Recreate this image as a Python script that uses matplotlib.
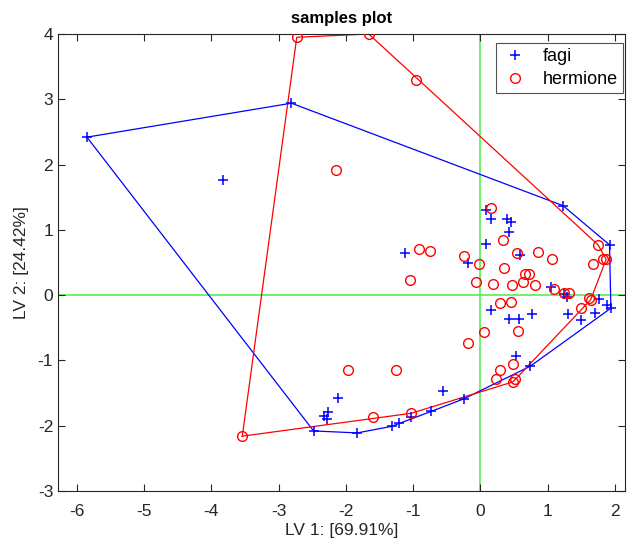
import matplotlib
matplotlib.use('Agg')
import matplotlib.pyplot as plt
import numpy as np

plt.rcParams['font.family'] = ['Liberation Sans', 'DejaVu Sans']
plt.rcParams['axes.unicode_minus'] = False

# fagi scores (LV1, LV2)
fagi_x = [-5.85, -2.81, 1.23, 1.92, 1.94, 0.74, -0.25, -0.73, -1.03, -1.21, -1.32, -1.83, -2.48,
          -3.82, -2.11, -2.26, -2.33, -2.28, -0.55, 0.53,
          0.09, 0.16, 0.39, 0.45, 0.43, 0.09, -1.12, -0.18, 0.59, 1.05, 1.24, 1.29, 1.77, 1.88,
          0.16, 0.43, 0.57, 0.77, 1.30, 1.49, 1.70]
fagi_y = [2.42, 2.94, 1.37, 0.77, -0.20, -1.09, -1.59, -1.78, -1.86, -1.96, -2.01, -2.11, -2.08,
          1.77, -1.57, -1.79, -1.85, -1.90, -1.47, -0.93,
          1.30, 1.17, 1.16, 1.12, 0.97, 0.78, 0.65, 0.50, 0.62, 0.13, 0.02, -0.03, -0.06, -0.15,
          -0.22, -0.37, -0.37, -0.29, -0.29, -0.38, -0.27]

# hermione scores (LV1, LV2)
herm_x = [-2.73, -1.66, -0.96, 1.75, 1.83, 1.87, 1.61, 1.64, 0.52, 0.48, -1.03, -3.54,
          -2.14, -1.97, -1.25, -1.60, -0.18, 0.06, 0.56, 0.29, 0.23, 0.48,
          0.16, -0.92, -0.75, -1.04, -0.25, -0.02, -0.06, 0.19, 0.33, 0.35, 0.55, 0.47, 0.64,
          0.66, 0.72, 0.81, 0.86, 1.07, 1.10, 1.24, 1.31, 0.29, 0.46, 1.49, 1.68]
herm_y = [3.95, 4.00, 3.29, 0.77, 0.56, 0.55, -0.05, -0.07, -1.29, -1.33, -1.81, -2.16,
          1.92, -1.15, -1.14, -1.87, -0.74, -0.57, -0.55, -1.15, -1.29, -1.06,
          1.34, 0.70, 0.67, 0.23, 0.60, 0.48, 0.20, 0.17, 0.85, 0.42, 0.65, 0.16, 0.20,
          0.33, 0.32, 0.16, 0.66, 0.56, 0.09, 0.03, 0.04, -0.12, -0.11, -0.19, 0.47]


def hull(xs, ys):
    pts = sorted(set(zip(xs, ys)))

    def cross(o, a, b):
        return (a[0] - o[0]) * (b[1] - o[1]) - (a[1] - o[1]) * (b[0] - o[0])

    lower, upper = [], []
    for p in pts:
        while len(lower) >= 2 and cross(lower[-2], lower[-1], p) <= 0:
            lower.pop()
        lower.append(p)
    for p in reversed(pts):
        while len(upper) >= 2 and cross(upper[-2], upper[-1], p) <= 0:
            upper.pop()
        upper.append(p)
    h = lower[:-1] + upper[:-1]
    h.append(h[0])
    return np.array(h)


fig = plt.figure(figsize=(6.27, 5.43), dpi=100)
ax = fig.add_axes([58 / 627, 52 / 543, 567 / 627, 457 / 543])

ax.axvline(0, color='#55ee55', lw=1.2, zorder=1)
ax.axhline(0, color='#55ee55', lw=1.2, zorder=1)

ax.plot(fagi_x, fagi_y, '+', color='blue', ms=7, mew=1.1, ls='none', label='fagi', zorder=3)
ax.plot(herm_x, herm_y, 'o', mfc='none', mec='red', ms=7, mew=1.0, ls='none', label='hermione', zorder=3)

hf = hull(fagi_x, fagi_y)
hh = hull(herm_x, herm_y)
ax.plot(hf[:, 0], hf[:, 1], color='blue', lw=0.9, zorder=2)
ax.plot(hh[:, 0], hh[:, 1], color='red', lw=0.9, zorder=2)

ax.set_xlim(-6.28, 2.15)
ax.set_ylim(-3, 4)
ax.set_xticks(np.arange(-6, 3, 1))
ax.set_yticks(np.arange(-3, 5, 1))
ax.tick_params(direction='in', top=True, right=True, labelsize=12.5, colors='#262626', length=5)
ax.tick_params(axis='x', pad=9)
for s in ax.spines.values():
    s.set_color('#262626')
    s.set_linewidth(0.8)

ax.set_title('samples plot', fontsize=12, fontweight='bold', pad=8)
ax.set_xlabel('LV 1: [69.91%]', fontsize=12.5, color='#262626', labelpad=3)
ax.set_ylabel('LV 2: [24.42%]', fontsize=12.5, color='#262626', labelpad=6)

leg = ax.legend(loc='upper right', bbox_to_anchor=(623 / 627, 1 - 43 / 543),
                bbox_transform=fig.transFigure, fontsize=13, frameon=True, fancybox=False,
                edgecolor='#262626', borderaxespad=0, handletextpad=0.7, borderpad=0.3,
                labelspacing=0.3, handlelength=1.6)
leg.get_frame().set_linewidth(0.8)

fig.savefig('out.png', dpi=100)
